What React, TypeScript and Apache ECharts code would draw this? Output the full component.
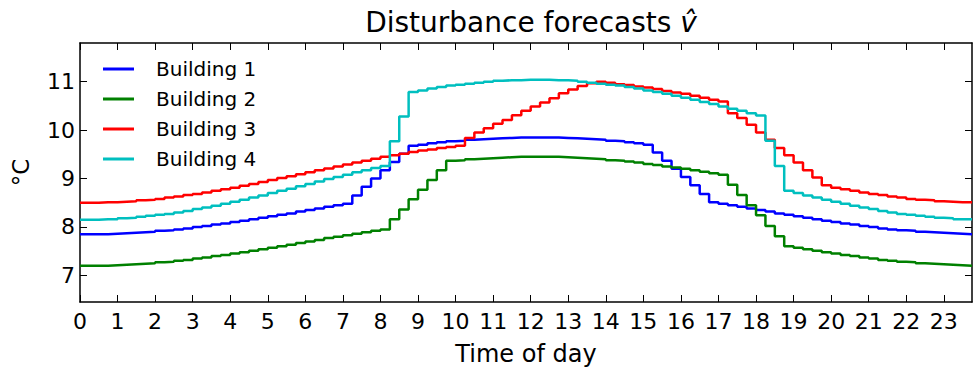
import React, { useEffect, useRef } from "react";
import * as echarts from "echarts";

// 15-minute forecast steps
const STEP_HOURS = 0.25;

const building1 = [
  7.85, 7.85, 7.85, 7.86, 7.87, 7.88, 7.89, 7.9, 7.92, 7.93, 7.95, 7.97, 8.0, 8.02, 8.05, 8.07,
  8.1, 8.13, 8.16, 8.19, 8.22, 8.25, 8.28, 8.32, 8.35, 8.38, 8.42, 8.45, 8.48,
  8.65, 8.83, 9.0, 9.17, 9.34, 9.51, 9.68,
  9.7, 9.73, 9.75, 9.77, 9.78, 9.8, 9.81, 9.82, 9.83, 9.84, 9.85, 9.85, 9.85, 9.85, 9.85, 9.84,
  9.83, 9.82, 9.81, 9.8, 9.78, 9.77, 9.75, 9.73, 9.7,
  9.54, 9.37, 9.2, 9.03, 8.86, 8.68,
  8.51, 8.48, 8.45, 8.42, 8.38, 8.35, 8.32, 8.28, 8.25, 8.22, 8.19, 8.16, 8.13, 8.1, 8.07, 8.05,
  8.02, 8.0, 7.97, 7.95, 7.93, 7.92, 7.9, 7.89, 7.88, 7.87, 7.86, 7.85, 7.85,
];

const building2 = [
  7.2, 7.2, 7.2, 7.21, 7.22, 7.23, 7.24, 7.25, 7.27, 7.28, 7.3, 7.32, 7.35, 7.37, 7.4, 7.42,
  7.45, 7.48, 7.51, 7.54, 7.57, 7.6, 7.63, 7.67, 7.7, 7.73, 7.77, 7.8, 7.83, 7.86, 7.89, 7.92, 7.95,
  8.16, 8.36, 8.57, 8.77, 8.97, 9.17,
  9.37, 9.38, 9.4, 9.41, 9.42, 9.43, 9.44, 9.45, 9.45, 9.45, 9.45, 9.45, 9.44, 9.43, 9.42, 9.41,
  9.4, 9.38, 9.37, 9.35, 9.33, 9.3, 9.28, 9.25, 9.23, 9.2, 9.17, 9.14, 9.11, 9.08,
  8.87, 8.66, 8.45, 8.24, 8.02, 7.81,
  7.6, 7.57, 7.54, 7.51, 7.48, 7.45, 7.42, 7.4, 7.37, 7.35, 7.32, 7.3, 7.28, 7.27, 7.25, 7.24,
  7.23, 7.22, 7.21, 7.2, 7.2,
];

const building3 = [
  8.5, 8.5, 8.51, 8.51, 8.52, 8.53, 8.55, 8.56, 8.58, 8.61, 8.63, 8.66, 8.68, 8.71, 8.75, 8.78,
  8.81, 8.85, 8.89, 8.93, 8.97, 9.01, 9.05, 9.09, 9.13, 9.17, 9.21, 9.25, 9.29, 9.33, 9.37, 9.41,
  9.45, 9.48, 9.51, 9.55, 9.58, 9.6, 9.63, 9.65, 9.68,
  9.84, 9.95, 10.04, 10.13, 10.21, 10.31, 10.4, 10.49, 10.57, 10.66, 10.76, 10.84, 10.91, 10.97,
  11.0, 10.98, 10.95, 10.93, 10.9, 10.88, 10.85, 10.81, 10.78, 10.75, 10.71, 10.67, 10.63, 10.59,
  10.35, 10.25, 10.11, 9.95, 9.8, 9.63, 9.48, 9.33, 9.17, 9.02,
  8.86, 8.81, 8.78, 8.75, 8.71, 8.68, 8.66, 8.63, 8.61, 8.58, 8.56, 8.55, 8.53, 8.52, 8.51, 8.51, 8.5,
];

const building4 = [
  8.15, 8.15, 8.16, 8.16, 8.18, 8.19, 8.21, 8.23, 8.25, 8.27, 8.3, 8.33, 8.37, 8.4, 8.44, 8.48,
  8.52, 8.56, 8.61, 8.65, 8.7, 8.75, 8.79, 8.84, 8.89, 8.94, 8.99, 9.03, 9.08, 9.13, 9.17, 9.22, 9.26,
  9.77, 10.28,
  10.79, 10.82, 10.86, 10.89, 10.92, 10.94, 10.96, 10.98, 11.0, 11.02, 11.03, 11.03, 11.04, 11.04,
  11.04, 11.03, 11.03, 11.02, 11.0, 10.98, 10.96, 10.94, 10.92, 10.89, 10.86, 10.82, 10.79, 10.75,
  10.71, 10.67, 10.63, 10.58, 10.54, 10.49, 10.44, 10.4, 10.35, 10.3,
  9.78, 9.26,
  8.75, 8.7, 8.65, 8.61, 8.56, 8.52, 8.48, 8.44, 8.4, 8.37, 8.33, 8.3, 8.27, 8.25, 8.23, 8.21,
  8.19, 8.18, 8.16, 8.16, 8.15,
];

const seriesNames = ["Building 1", "Building 2", "Building 3", "Building 4"];
const seriesColors = ["#0000ff", "#008000", "#ff0000", "#00bfbf"];
const xTicks = [0, 1, 2, 3, 4, 5, 6, 7, 8, 9, 10, 11, 12, 13, 14, 15, 16, 17, 18, 19, 20, 21, 22, 23];
const yTicks = [7, 8, 9, 10, 11];
const X_MIN = 0;
const X_MAX = 23.75;
const Y_MIN = 6.45;
const Y_MAX = 11.8;
const TITLE = "Disturbance forecasts ";
const X_NAME = "Time of day";
const Y_NAME = "°C";

export default function App() {
  const ref = useRef<HTMLDivElement>(null);

  useEffect(() => {
    if (!ref.current) return;
    const chart = echarts.init(ref.current, null, { renderer: "svg" });
    const font = "DejaVu Sans";
    const allSeries = [building1, building2, building3, building4];
    const axisLine = { show: true, onZero: false, lineStyle: { color: "#000", width: 1.5 } };
    const tickBase = { show: true, inside: true, length: 7, lineStyle: { color: "#000", width: 1 } };

    chart.setOption({
      animation: false,
      backgroundColor: "#ffffff",
      grid: { left: 80, right: 2, top: 43, bottom: 67, containLabel: false },
      graphic: [
        {
          type: "text",
          x: 531,
          y: 22,
          style: {
            text: TITLE + "{v|v\u0302}",
            fontSize: 28,
            fontFamily: font,
            fill: "#000",
            align: "center",
            verticalAlign: "middle",
            rich: {
              v: { fontSize: 28, fontFamily: font, fontStyle: "italic", fill: "#000" },
            },
          },
        },
      ],
      legend: {
        orient: "vertical",
        left: 103,
        top: 59,
        padding: 0,
        icon: "rect",
        itemWidth: 31,
        itemHeight: 3,
        itemGap: 10,
        data: seriesNames,
        textStyle: {
          fontSize: 20,
          fontFamily: font,
          color: "#000",
          lineHeight: 20,
          padding: [0, 0, 0, 17],
        },
      },
      xAxis: [
        {
          type: "value",
          min: X_MIN,
          max: X_MAX,
          position: "bottom",
          axisLine,
          axisTick: { ...tickBase, customValues: xTicks },
          axisLabel: {
            customValues: xTicks,
            fontSize: 22,
            fontFamily: font,
            color: "#000",
            margin: 8,
          },
          splitLine: { show: false },
          name: X_NAME,
          nameLocation: "middle",
          nameGap: 40,
          nameTextStyle: { fontSize: 24, fontFamily: font, color: "#000" },
        },
        {
          type: "value",
          min: X_MIN,
          max: X_MAX,
          position: "top",
          axisLine,
          axisTick: { ...tickBase, customValues: xTicks },
          axisLabel: { show: false },
          splitLine: { show: false },
        },
      ],
      yAxis: [
        {
          type: "value",
          min: Y_MIN,
          max: Y_MAX,
          position: "left",
          axisLine,
          axisTick: { ...tickBase, customValues: yTicks },
          axisLabel: {
            customValues: yTicks,
            fontSize: 22,
            fontFamily: font,
            color: "#000",
            margin: 5,
          },
          splitLine: { show: false },
          name: Y_NAME,
          nameLocation: "middle",
          nameRotate: 90,
          nameGap: 48,
          nameTextStyle: { fontSize: 23, fontFamily: font, color: "#000" },
        },
        {
          type: "value",
          min: Y_MIN,
          max: Y_MAX,
          position: "right",
          axisLine,
          axisTick: { ...tickBase, customValues: yTicks },
          axisLabel: { show: false },
          splitLine: { show: false },
        },
      ],
      series: allSeries.map((vals, i) => ({
        type: "line",
        name: seriesNames[i],
        step: "end",
        xAxisIndex: 0,
        yAxisIndex: 0,
        showSymbol: false,
        symbol: "none",
        clip: true,
        data: vals.map((v, k) => [k * STEP_HOURS, v]),
        lineStyle: { width: 2.5, color: seriesColors[i] },
        itemStyle: { color: seriesColors[i] },
      })),
    });

    return () => chart.dispose();
  }, []);

  return (
    <div
      ref={ref}
      style={{ position: "fixed", left: 0, top: 0, width: 974, height: 371, background: "#fff" }}
    />
  );
}
